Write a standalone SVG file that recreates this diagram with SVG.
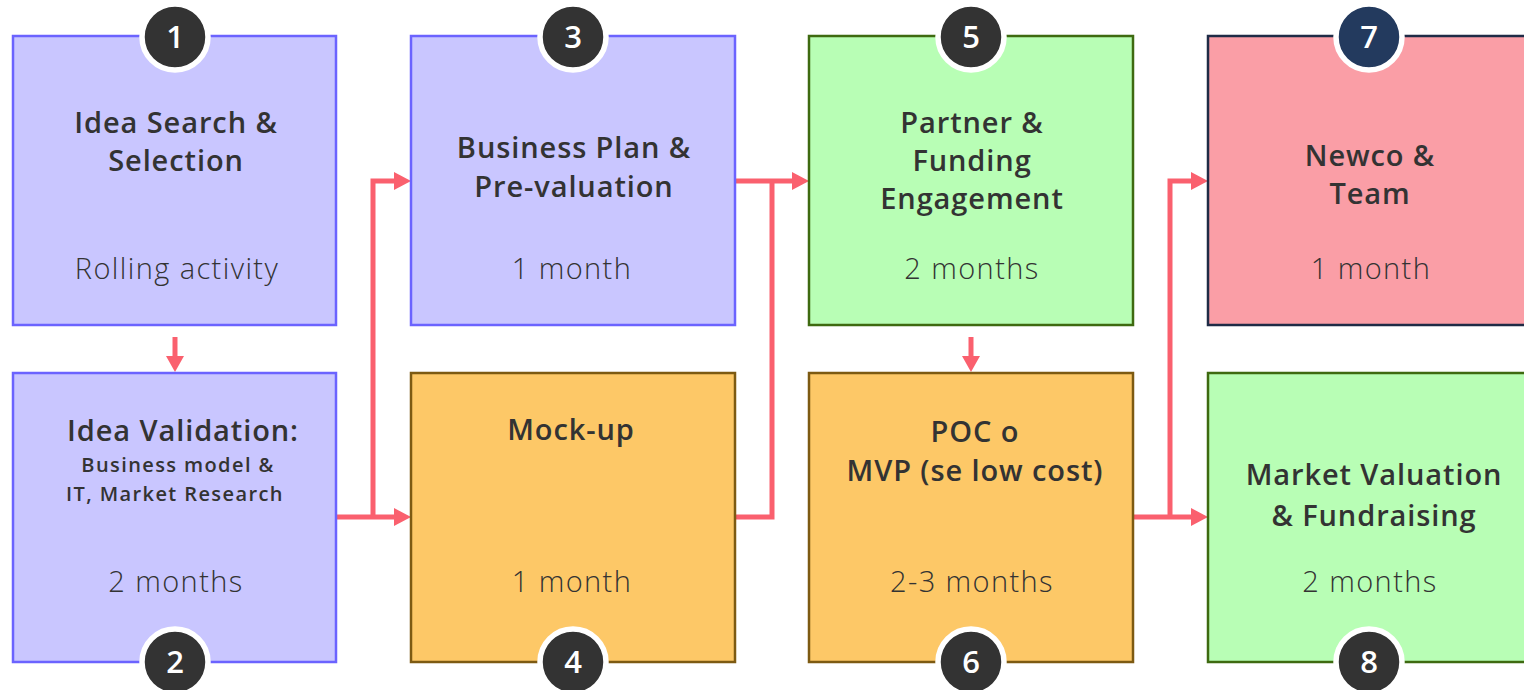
<svg xmlns="http://www.w3.org/2000/svg" width="1524" height="690" viewBox="0 0 1524 690">
<defs>
<style>
.box{stroke-width:2.5}
.purple{fill:#c9c6ff;stroke:#6b63ff}
.orange{fill:#fdc867;stroke:#7d5a12}
.green{fill:#b8feb5;stroke:#3e6a10}
.pink{fill:#fa9ea6;stroke:#1f2b46}
.t{font-family:"Open Sans",Lato,"Liberation Sans",sans-serif;fill:#333;text-anchor:middle}
.b{font-weight:600;font-size:29px;letter-spacing:0.9px}
.s{font-weight:600;font-size:20px;letter-spacing:1.4px}
.l{font-weight:300;font-size:29px;letter-spacing:1.4px}
.badge{stroke:#fff;stroke-width:5.5}
.num{font-family:"Open Sans",Lato,"Liberation Sans",sans-serif;font-weight:600;font-size:31px;fill:#fff;text-anchor:middle}
.c{fill:none;stroke:#fa606e;stroke-width:5}
.h{fill:#fa606e}
</style>
</defs>
<rect width="1524" height="690" fill="#fff"/>
<g id="connectors">
<path class="c" d="M175,337 L175,358"/>
<path class="h" d="M166,356 L184,356 L175,372 z"/>
<path class="c" d="M971,337 L971,358"/>
<path class="h" d="M962,356 L980,356 L971,372 z"/>
<path class="c" d="M337,517 L395,517"/>
<path class="c" d="M373,517 L373,181 L395,181"/>
<path class="h" d="M394,508 L411,517 L394,526 z"/>
<path class="h" d="M394,172 L411,181 L394,190 z"/>
<path class="c" d="M736,181 L793,181"/>
<path class="c" d="M736,517 L772,517 L772,181"/>
<path class="h" d="M792,172 L809,181 L792,190 z"/>
<path class="c" d="M1134,517 L1192,517"/>
<path class="c" d="M1170,517 L1170,181 L1192,181"/>
<path class="h" d="M1191,508 L1208,517 L1191,526 z"/>
<path class="h" d="M1191,172 L1208,181 L1191,190 z"/>
</g>
<g id="node1">
<rect class="box purple" x="13" y="36" width="323" height="289"/>
<text class="t b" x="176" y="133">Idea Search &amp;</text>
<text class="t b" x="176" y="171">Selection</text>
<text class="t l" x="177" y="279">Rolling activity</text>
<circle class="badge" cx="175" cy="37" r="33" fill="#333"/>
<text class="num" x="175" y="48">1</text>
</g>
<g id="node2">
<rect class="box purple" x="13" y="373" width="323" height="289"/>
<text class="t b" x="183" y="441">Idea Validation:</text>
<text class="t s" x="178" y="472">Business model &amp;</text>
<text class="t s" x="175" y="501">IT, Market Research</text>
<text class="t l" x="176" y="592">2 months</text>
<circle class="badge" cx="175" cy="662" r="33" fill="#333"/>
<text class="num" x="175" y="673">2</text>
</g>
<g id="node3">
<rect class="box purple" x="411" y="36" width="324" height="289"/>
<text class="t b" x="574" y="158">Business Plan &amp;</text>
<text class="t b" x="574" y="197">Pre-valuation</text>
<text class="t l" x="572" y="279">1 month</text>
<circle class="badge" cx="573" cy="37" r="33" fill="#333"/>
<text class="num" x="573" y="48">3</text>
</g>
<g id="node4">
<rect class="box orange" x="411" y="373" width="324" height="289"/>
<text class="t b" x="571" y="440">Mock-up</text>
<text class="t l" x="572" y="592">1 month</text>
<circle class="badge" cx="573" cy="662" r="33" fill="#333"/>
<text class="num" x="573" y="673">4</text>
</g>
<g id="node5">
<rect class="box green" x="809" y="36" width="324" height="289"/>
<text class="t b" x="972" y="133">Partner &amp;</text>
<text class="t b" x="972" y="171">Funding</text>
<text class="t b" x="972" y="209">Engagement</text>
<text class="t l" x="972" y="279">2 months</text>
<circle class="badge" cx="971" cy="37" r="33" fill="#333"/>
<text class="num" x="971" y="48">5</text>
</g>
<g id="node6">
<rect class="box orange" x="809" y="373" width="324" height="289"/>
<text class="t b" x="975" y="442">POC o</text>
<text class="t b" x="975" y="481">MVP (se low cost)</text>
<text class="t l" x="972" y="592">2-3 months</text>
<circle class="badge" cx="971" cy="662" r="33" fill="#333"/>
<text class="num" x="971" y="673">6</text>
</g>
<g id="node7">
<rect class="box pink" x="1208" y="36" width="324" height="289"/>
<text class="t b" x="1370" y="166">Newco &amp;</text>
<text class="t b" x="1370" y="204">Team</text>
<text class="t l" x="1371" y="279">1 month</text>
<circle class="badge" cx="1369" cy="37" r="33" fill="#233a5e"/>
<text class="num" x="1369" y="48">7</text>
</g>
<g id="node8">
<rect class="box green" x="1208" y="373" width="324" height="289"/>
<text class="t b" x="1374" y="485">Market Valuation</text>
<text class="t b" x="1374" y="526">&amp; Fundraising</text>
<text class="t l" x="1370" y="592">2 months</text>
<circle class="badge" cx="1369" cy="662" r="33" fill="#333"/>
<text class="num" x="1369" y="673">8</text>
</g>
</svg>
